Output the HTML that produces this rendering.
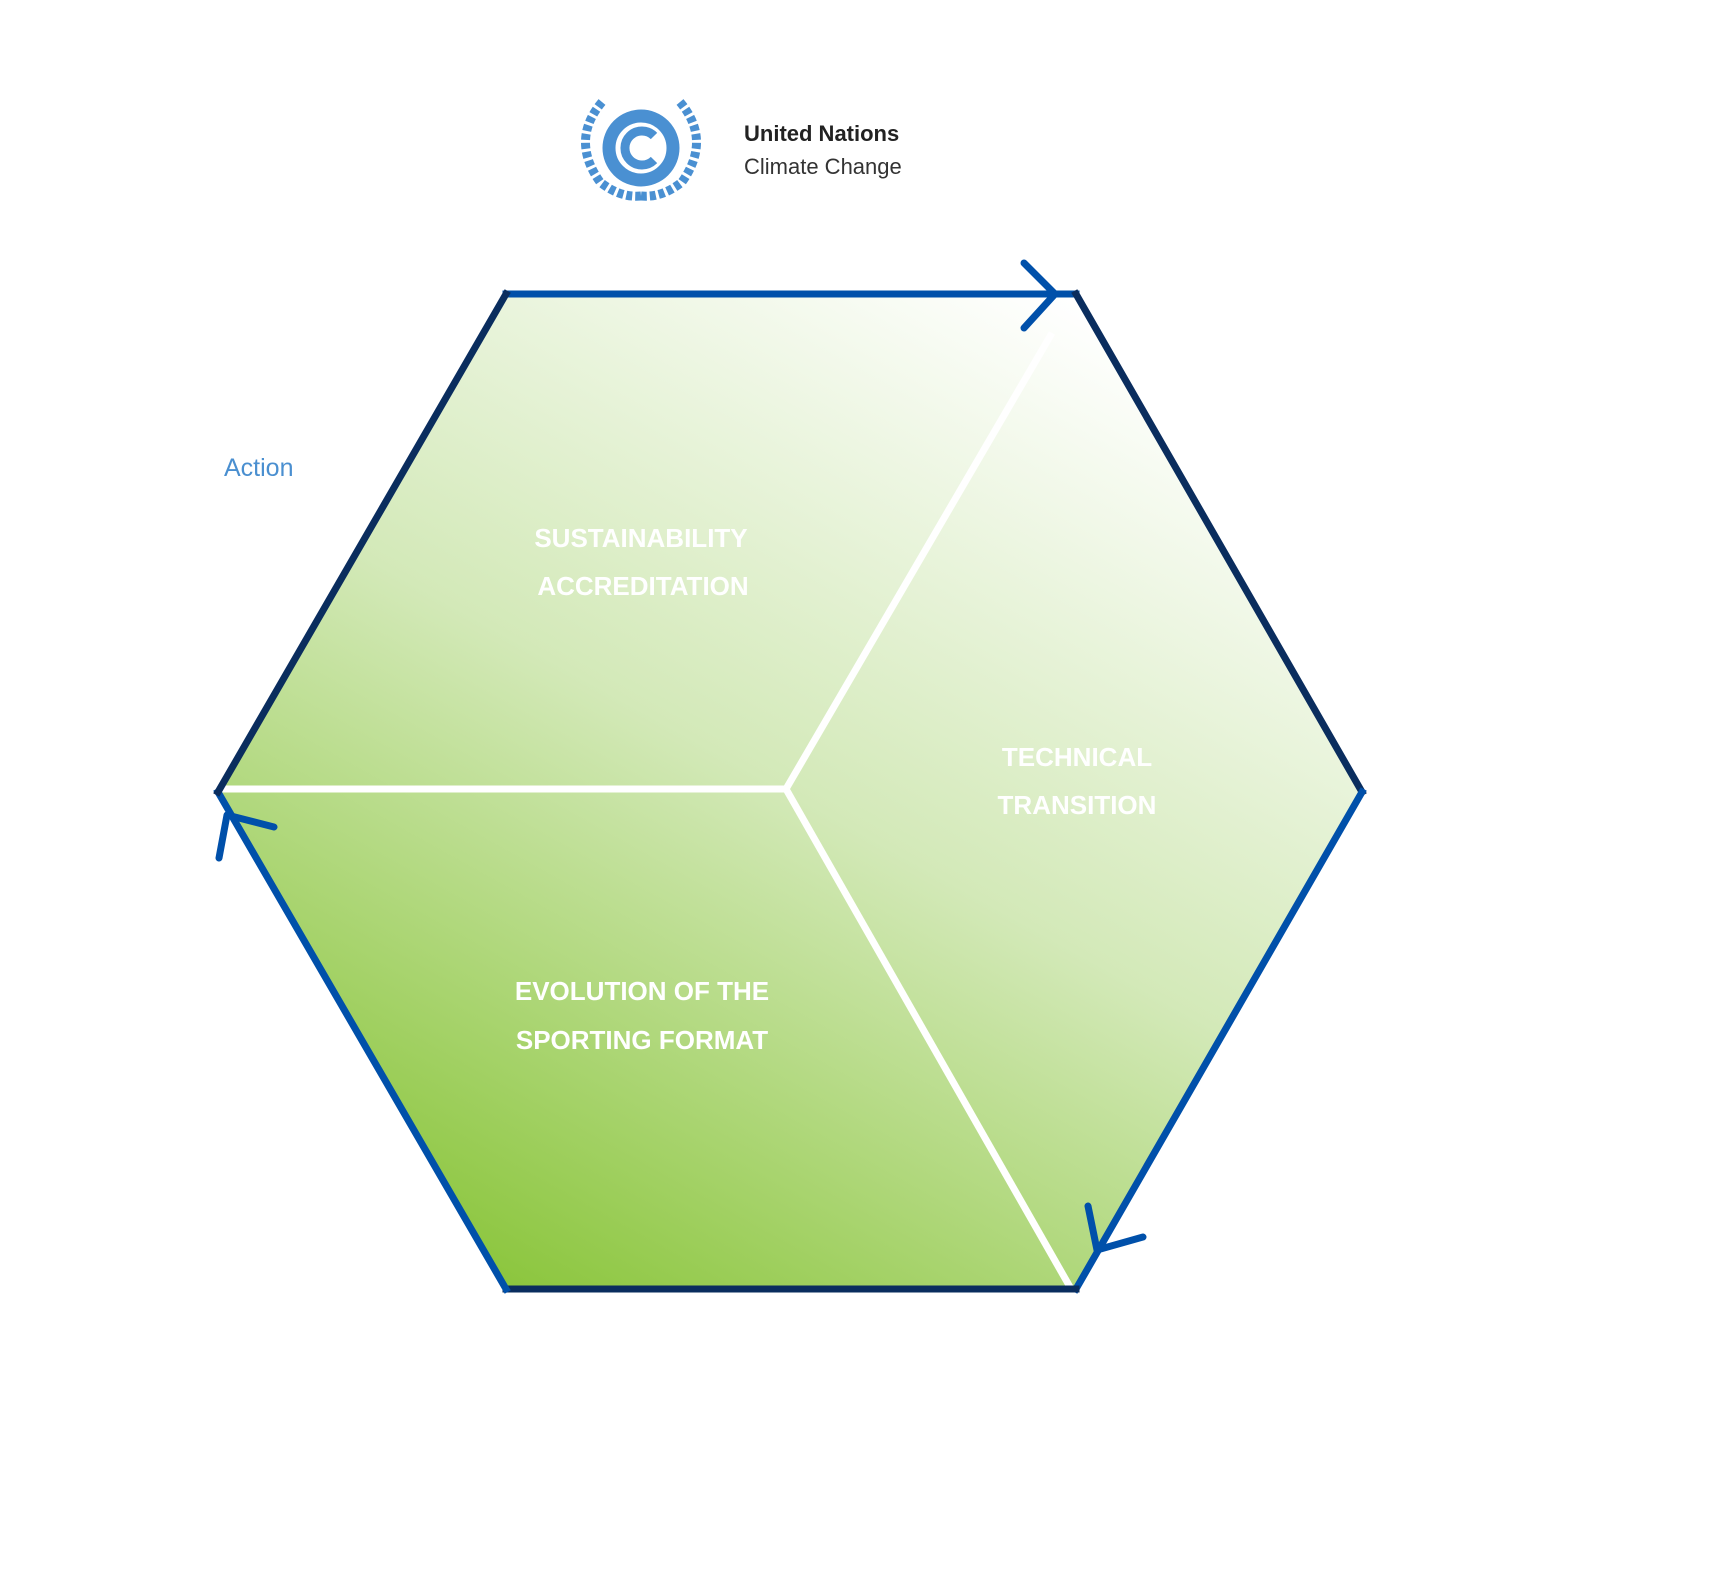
<!DOCTYPE html>
<html><head><meta charset="utf-8"><style>
html,body{margin:0;padding:0;background:#fff;}
svg{display:block;}
</style></head><body>
<svg width="1734" height="1578" viewBox="0 0 1734 1578" xmlns="http://www.w3.org/2000/svg">
<defs>
<linearGradient id="g" gradientUnits="userSpaceOnUse" x1="520" y1="1290" x2="1070" y2="300">
<stop offset="0" stop-color="#8cc63e"/>
<stop offset="0.5" stop-color="#d3e9b8"/>
<stop offset="1" stop-color="#ffffff"/>
</linearGradient>
</defs>
<polygon points="506,294 1076,294 1362,792 1076,1289 506,1289 218,792" fill="url(#g)"/>
<g stroke="#fff" stroke-width="7" fill="none">
<line x1="786" y1="789" x2="222" y2="789"/>
<line x1="786" y1="789" x2="1052" y2="333"/>
<line x1="786" y1="789" x2="1070" y2="1287"/>
</g>
<g stroke-width="7" fill="none" stroke-linecap="square">
<line x1="506" y1="294" x2="1076" y2="294" stroke="#0050aa"/>
<line x1="1076" y1="294" x2="1362" y2="792" stroke="#0a2d5e"/>
<line x1="1362" y1="792" x2="1076" y2="1289" stroke="#0050aa"/>
<line x1="1076" y1="1289" x2="506" y2="1289" stroke="#0a2d5e"/>
<line x1="506" y1="1289" x2="218" y2="792" stroke="#0050aa"/>
<line x1="218" y1="792" x2="506" y2="294" stroke="#0a2d5e"/>
</g>
<g stroke="#0050aa" stroke-width="7" fill="none" stroke-linecap="round" stroke-linejoin="round">
<polyline points="1024,263 1055,294 1024,328"/>
<polyline points="1088,1206 1097,1250 1143,1237"/>
<polyline points="219,858 227,815 274,827"/>
</g>
<text x="224" y="476" font-family="Liberation Sans, sans-serif" font-size="25" fill="#4a8fd0">Action</text>
<g font-family="Liberation Sans, sans-serif" font-size="26" font-weight="bold" fill="#fff" text-anchor="middle">
<text x="641" y="547">SUSTAINABILITY</text>
<text x="643" y="595">ACCREDITATION</text>
<text x="1077" y="766">TECHNICAL</text>
<text x="1077" y="814">TRANSITION</text>
<text x="642" y="1000">EVOLUTION OF THE</text>
<text x="642" y="1049">SPORTING FORMAT</text>
</g>
<g fill="none" stroke="#4a90d2">
<circle cx="641" cy="148" r="32" stroke-width="13"/>
<path d="M654,136 A17,17 0 1 0 654,160" stroke-width="9"/>
<path d="M602,102 Q570,140 600,182 Q620,198 641,196" stroke-width="9" stroke-dasharray="6 3"/>
<path d="M680,102 Q712,140 682,182 Q662,198 641,196" stroke-width="9" stroke-dasharray="6 3"/>
</g>
<text x="744" y="141" font-family="Liberation Sans, sans-serif" font-size="22" font-weight="bold" fill="#222">United Nations</text>
<text x="744" y="174" font-family="Liberation Sans, sans-serif" font-size="22" fill="#333">Climate Change</text>
</svg>
</body></html>
